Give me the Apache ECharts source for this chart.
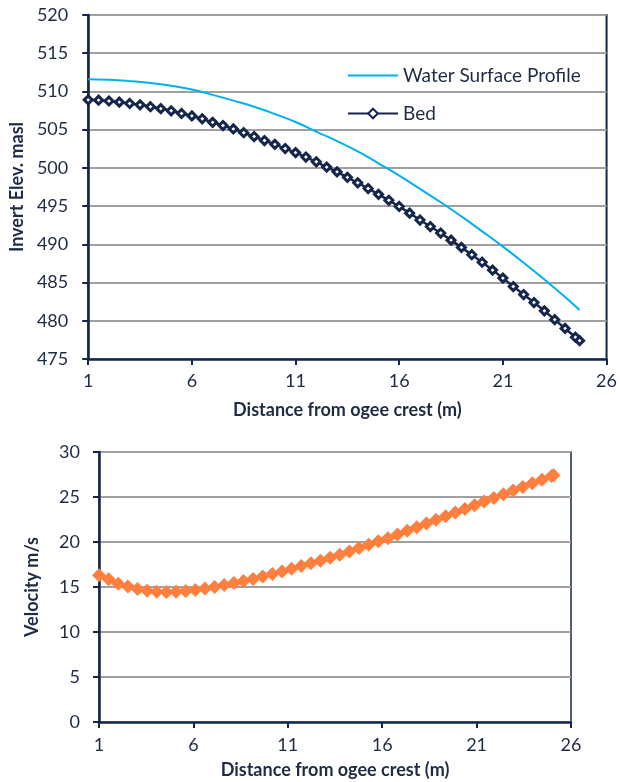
<!DOCTYPE html>
<html>
<head>
<meta charset="utf-8">
<script src="https://cdn.jsdelivr.net/npm/echarts@6/dist/echarts.min.js"></script>
<style>
  html, body { margin: 0; padding: 0; background: #ffffff; }
  #chart { width: 620px; height: 782px; }
</style>
</head>
<body>
<div id="chart"></div>
<script>
// Ogee spillway profile: bed and water surface elevations (m a.s.l.)
const bedDistance = [1, 1.5, 2, 2.5, 3, 3.5, 4, 4.5, 5, 5.5, 6, 6.5, 7, 7.5, 8, 8.5, 9, 9.5, 10, 10.5,
  11, 11.5, 12, 12.5, 13, 13.5, 14, 14.5, 15, 15.5, 16, 16.5, 17, 17.5, 18, 18.5, 19, 19.5, 20, 20.5,
  21, 21.5, 22, 22.5, 23, 23.5, 24, 24.5, 24.7];
const bedElevation = [508.9, 508.86, 508.75, 508.6, 508.43, 508.25, 508.0, 507.75, 507.47, 507.12,
  506.8, 506.42, 505.96, 505.54, 505.1, 504.6, 504.1, 503.58, 503.08, 502.53,
  502.0, 501.42, 500.8, 500.1, 499.48, 498.76, 498.05, 497.3, 496.54, 495.76,
  494.95, 494.08, 493.18, 492.33, 491.48, 490.55, 489.6, 488.64, 487.66, 486.63,
  485.58, 484.48, 483.43, 482.39, 481.3, 480.15, 479.0, 477.85, 477.4];

const wsDistance = [1, 2, 3, 4, 5, 6, 7, 8, 9, 10, 11, 12, 13, 14, 15, 16, 17, 18, 19, 20, 21, 22, 23, 24, 24.7];
const wsElevation = [511.58, 511.52, 511.35, 511.1, 510.75, 510.25, 509.55, 508.8, 508.0, 507.05,
  506.0, 504.75, 503.5, 502.15, 500.6, 499.0, 497.25, 495.5, 493.65, 491.7,
  489.7, 487.6, 485.4, 483.1, 481.4];

// Flow velocity along the spillway (m/s)
const velDistance = [1.00, 1.51, 2.02, 2.53, 3.04, 3.55, 4.06, 4.57, 5.08, 5.59, 6.10, 6.61, 7.12, 7.63,
  8.14, 8.65, 9.16, 9.67, 10.18, 10.69, 11.20, 11.71, 12.22, 12.73, 13.24, 13.75, 14.26, 14.77,
  15.28, 15.79, 16.30, 16.81, 17.32, 17.83, 18.34, 18.85, 19.36, 19.87, 20.38, 20.89, 21.40,
  21.91, 22.42, 22.93, 23.44, 23.95, 24.46, 24.97, 25.07];
const velocity = [16.3, 15.85, 15.35, 15.05, 14.78, 14.58, 14.48, 14.44, 14.46, 14.55, 14.67, 14.84,
  15.0, 15.22, 15.44, 15.68, 15.9, 16.17, 16.44, 16.73, 17.03, 17.33, 17.63, 17.93, 18.24, 18.57,
  18.95, 19.32, 19.7, 20.07, 20.42, 20.83, 21.24, 21.65, 22.05, 22.46, 22.87, 23.28, 23.68, 24.09,
  24.5, 24.9, 25.31, 25.72, 26.12, 26.53, 26.93, 27.33, 27.42];

const xTicks = [1, 6, 11, 16, 21, 26];
const elevTicks = { min: 475, max: 520, step: 5 };
const velTicks = { min: 0, max: 30, step: 5 };

const seriesNames = ['Water Surface Profile', 'Bed', 'Velocity'];
const xTitle = 'Distance from ogee crest (m)';
const elevTitle = 'Invert Elev. masl';
const velTitle = 'Velocity m/s';

const pairs = (xs, ys) => xs.map((x, i) => [x, ys[i]]);

const NAVY = '#14264a';
const TEXT = '#1e2b45';
const GRID = '#a0a0a0';
const FONT = 'Lato';

function xAxisCfg(gridIndex, labelMargin, nameGap) {
  return {
    type: 'value', gridIndex, min: xTicks[0], max: xTicks[xTicks.length - 1],
    name: xTitle, nameLocation: 'middle', nameGap,
    nameTextStyle: { color: TEXT, fontFamily: FONT, fontWeight: 'bold', fontSize: 18 },
    axisLine: { show: true, lineStyle: { color: NAVY, width: 2.5 } },
    axisTick: { show: true, length: 6, customValues: xTicks, lineStyle: { color: NAVY, width: 2 } },
    axisLabel: { customValues: xTicks, margin: labelMargin, color: TEXT, fontFamily: FONT, fontSize: 18 },
    splitLine: { show: false }
  };
}

function yAxisCfg(gridIndex, t, title, labelMargin, nameGap) {
  return {
    type: 'value', gridIndex, min: t.min, max: t.max, interval: t.step,
    name: title, nameLocation: 'middle', nameGap, nameRotate: 90,
    nameTextStyle: { color: TEXT, fontFamily: FONT, fontWeight: 'bold', fontSize: 18 },
    axisLine: { show: true, lineStyle: { color: NAVY, width: 2.5 } },
    axisTick: { show: true, length: 6, lineStyle: { color: NAVY, width: 2 } },
    axisLabel: { margin: labelMargin, color: TEXT, fontFamily: FONT, fontSize: 18 },
    splitLine: { show: true, lineStyle: { color: GRID, width: 2 } }
  };
}

const chart = echarts.init(document.getElementById('chart'), null, { renderer: 'canvas' });
chart.setOption({
  animation: false,
  backgroundColor: '#ffffff',
  grid: [
    { left: 86, right: 12, top: 15, bottom: 423, show: true, borderColor: NAVY, borderWidth: 2 },
    { left: 99, right: 49, top: 452, bottom: 60, show: true, borderColor: NAVY, borderWidth: 1.5 }
  ],
  legend: {
    data: [
      { name: seriesNames[0], itemStyle: { opacity: 0 } },
      { name: seriesNames[1] }
    ],
    orient: 'vertical', left: 347, top: 66, padding: 0,
    itemWidth: 50, itemHeight: 12, itemGap: 19,
    textStyle: { color: TEXT, fontFamily: FONT, fontSize: 19 }
  },
  xAxis: [xAxisCfg(0, 13, 42), xAxisCfg(1, 14, 39)],
  yAxis: [yAxisCfg(0, elevTicks, elevTitle, 20, 58), yAxisCfg(1, velTicks, velTitle, 19, 58)],
  series: [
    {
      name: seriesNames[0], type: 'line', xAxisIndex: 0, yAxisIndex: 0,
      data: pairs(wsDistance, wsElevation), smooth: true, showSymbol: false, symbol: 'none',
      lineStyle: { color: '#00b0f0', width: 2 }, itemStyle: { color: '#00b0f0' }, z: 3
    },
    {
      name: seriesNames[1], type: 'line', xAxisIndex: 0, yAxisIndex: 0,
      data: pairs(bedDistance, bedElevation), symbol: 'diamond', symbolSize: 8,
      lineStyle: { color: NAVY, width: 2.5 },
      itemStyle: { color: '#ffffff', borderColor: NAVY, borderWidth: 3 }, z: 4
    },
    {
      name: seriesNames[2], type: 'line', xAxisIndex: 1, yAxisIndex: 1,
      data: pairs(velDistance, velocity), symbol: 'diamond', symbolSize: 14,
      lineStyle: { color: '#ff7f3f', width: 2.5 },
      itemStyle: { color: '#ff7f3f' }, z: 4
    }
  ]
});
</script>
</body>
</html>
